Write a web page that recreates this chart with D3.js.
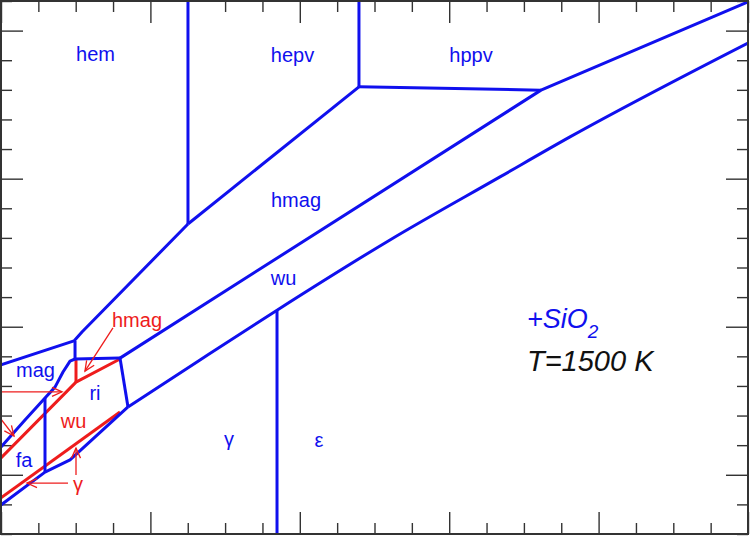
<!DOCTYPE html>
<html><head><meta charset="utf-8">
<script src="https://cdn.jsdelivr.net/npm/d3@7"></script>
<style>body{margin:0;background:#fff}svg{display:block}</style>
</head><body><svg id="c" width="750" height="536"></svg>
<script>
// ---------- data (x: pressure-like axis 0..100, y: log-scale axis -12..6) ----------
const xMinorTicks = d3.range(0, 101, 5);
const xMajorTicks = [0, 20, 40, 60, 80, 100];
const yMinorTicks = d3.range(-12, 7, 1);
const yMajorTicks = [-10, -5, 0, 5];

// blue phase boundaries
const hemHepv   = [[25.03, 6], [25.03, -1.53]];
const hepvHppv  = [[47.92, 6], [47.92, 3.10]];
const hepvHmag  = [[25.03, -1.53], [47.92, 3.10]];
const hppvHmag  = [[47.92, 3.10], [72.29, 2.99]];
const hmagWu    = [[15.93, -6.06], [72.29, 2.99], [100, 5.97]];
const wuLower   = [[17.00, -7.71], [26.64, -6.12], [36.95, -4.44], [52.07, -2.07], [66.80, 0.06], [76.17, 1.41], [100, 4.58]];
const gammaEps  = [[36.95, -4.44], [36.95, -12]];
const hemLower  = [[0, -6.29], [9.77, -5.48], [10.84, -5.18], [25.03, -1.53]];
const magHmag   = [[9.91, -5.48], [9.91, -6.09]];
const riTop     = [[9.91, -6.09], [15.93, -6.06]];
const riRight   = [[15.93, -6.06], [17.00, -7.71]];
const magLower  = [[9.91, -6.09], [9.24, -6.16], [8.30, -6.53], [7.23, -7.04], [5.89, -7.41], [3.21, -8.15], [0, -9.06]];
const faRi      = [[5.89, -7.41], [5.89, -9.91]];
const faLower   = [[0, -11.02], [5.89, -9.91], [9.24, -9.50], [17.00, -7.71]];

// red boundaries
const redUpper  = [[15.93, -6.09], [10.04, -6.87], [0, -9.43]];
const redVert   = [[10.04, -6.09], [10.04, -6.87]];
const redLower  = [[0, -10.78], [15.93, -7.88]];

// red arrows [from, to]
const redArrows = [
  [[14.99, -5.04], [11.24, -6.50]],
  [[0, -7.20], [8.17, -7.20]],
  [[0, -8.12], [1.74, -8.69]],
  [[8.97, -10.28], [3.48, -10.28]],
  [[10.04, -10.01], [10.04, -9.10]]
];

// labels: text, x, y (baseline), colour group
const blueLabels = [
  ["hem", 12.65, 3.97], ["hepv", 39.02, 3.94], ["hppv", 62.92, 3.94],
  ["hmag", 39.49, -0.96], ["wu", 37.82, -3.59], ["mag", 4.62, -6.70],
  ["ri", 12.58, -7.47], ["fa", 3.08, -9.74], ["γ", 30.52, -9.03], ["ε", 42.57, -9.06]
];
const redLabels = [
  ["hmag", 18.21, -5.01], ["wu", 9.71, -8.42], ["γ", 10.31, -10.55]
];
const siLabel = ["+SiO", "2", 70.41, -5.04];
const tLabel = ["T=1500 K", 70.41, -6.51];

// ---------- drawing ----------
const W = 750, H = 536;
const x = d3.scaleLinear().domain([0, 100]).range([1, 748]);
const y = d3.scaleLinear().domain([-12, 6]).range([534, 1]);
const svg = d3.select("#c");
const BLUE = "#1010ee", RED = "#ee1c1c", AX = "#333";
const FONT = "'Liberation Sans', Arial, Helvetica, sans-serif";

svg.append("defs").append("clipPath").attr("id", "clip")
  .append("rect").attr("x", x(0)).attr("y", y(6))
  .attr("width", x(100) - x(0)).attr("height", y(-12) - y(6));

const mk = svg.select("defs").append("marker").attr("id", "ah")
  .attr("markerUnits", "userSpaceOnUse").attr("viewBox", "-12 -6 14 12")
  .attr("refX", 0).attr("refY", 0).attr("markerWidth", 14).attr("markerHeight", 12)
  .attr("orient", "auto");
mk.append("path").attr("d", "M-10,-4.5 L0,0 L-10,4.5").attr("fill", "none")
  .attr("stroke", RED).attr("stroke-width", 1.3);

// axes / ticks
function axisG(gen, tx, ty) {
  const g = svg.append("g").attr("transform", `translate(${tx},${ty})`).call(gen);
  g.select(".domain").remove();
  g.selectAll("line").attr("stroke", AX).attr("stroke-width", 1.4);
  g.selectAll("text").remove();
  return g;
}
const minorX = xMinorTicks.filter(v => !xMajorTicks.includes(v));
const minorY = yMinorTicks.filter(v => !yMajorTicks.includes(v));
axisG(d3.axisBottom(x).tickValues(minorX).tickSize(-11).tickFormat(""), 0, y(-12));
axisG(d3.axisBottom(x).tickValues(xMajorTicks).tickSize(-22).tickFormat(""), 0, y(-12));
axisG(d3.axisTop(x).tickValues(minorX).tickSize(-11).tickFormat(""), 0, y(6));
axisG(d3.axisTop(x).tickValues(xMajorTicks).tickSize(-22).tickFormat(""), 0, y(6));
axisG(d3.axisLeft(y).tickValues(minorY).tickSize(-11).tickFormat(""), x(0), 0);
axisG(d3.axisLeft(y).tickValues(yMajorTicks).tickSize(-22).tickFormat(""), x(0), 0);
axisG(d3.axisRight(y).tickValues(minorY).tickSize(-11).tickFormat(""), x(100), 0);
axisG(d3.axisRight(y).tickValues(yMajorTicks).tickSize(-22).tickFormat(""), x(100), 0);

const plot = svg.append("g").attr("clip-path", "url(#clip)");
const lin = d3.line().x(d => x(d[0])).y(d => y(d[1]));
const smooth = d3.line().x(d => x(d[0])).y(d => y(d[1])).curve(d3.curveMonotoneX);

const blueLines = [hemHepv, hepvHppv, hepvHmag, hppvHmag, hmagWu, gammaEps, hemLower,
  magHmag, riTop, riRight, magLower, faRi, faLower];
const redLines = [redUpper, redVert, redLower];

plot.selectAll("path.red").data(redLines).join("path").attr("class", "red")
  .attr("d", lin).attr("fill", "none").attr("stroke", RED).attr("stroke-width", 3)
  .attr("stroke-linejoin", "round");
plot.selectAll("path.blue").data(blueLines).join("path").attr("class", "blue")
  .attr("d", lin).attr("fill", "none").attr("stroke", BLUE).attr("stroke-width", 3)
  .attr("stroke-linejoin", "round");
plot.append("path").datum(wuLower).attr("d", smooth).attr("fill", "none")
  .attr("stroke", BLUE).attr("stroke-width", 3);

plot.selectAll("path.arr").data(redArrows).join("path").attr("class", "arr")
  .attr("d", lin).attr("fill", "none").attr("stroke", RED).attr("stroke-width", 1.3)
  .attr("marker-end", "url(#ah)");

// frame
svg.append("rect").attr("x", x(0)).attr("y", y(6))
  .attr("width", x(100) - x(0)).attr("height", y(-12) - y(6))
  .attr("fill", "none").attr("stroke", AX).attr("stroke-width", 2);

// labels
svg.selectAll("text.bl").data(blueLabels).join("text").attr("class", "bl")
  .attr("x", d => x(d[1])).attr("y", d => y(d[2])).attr("text-anchor", "middle")
  .attr("font-family", FONT).attr("font-size", 20).attr("fill", BLUE).text(d => d[0]);
svg.selectAll("text.rl").data(redLabels).join("text").attr("class", "rl")
  .attr("x", d => x(d[1])).attr("y", d => y(d[2])).attr("text-anchor", "middle")
  .attr("font-family", FONT).attr("font-size", 20).attr("fill", RED).text(d => d[0]);

const si = svg.append("text").attr("x", x(siLabel[2])).attr("y", y(siLabel[3]))
  .attr("font-family", FONT).attr("font-size", 27).attr("font-style", "italic").attr("fill", BLUE);
si.append("tspan").text(siLabel[0]);
si.append("tspan").attr("dy", 10).attr("font-size", 19).text(siLabel[1]);

svg.append("text").attr("x", x(tLabel[1])).attr("y", y(tLabel[2]))
  .attr("font-family", FONT).attr("font-size", 29).attr("font-style", "italic").attr("fill", "#111")
  .text(tLabel[0]);
</script></body></html>
